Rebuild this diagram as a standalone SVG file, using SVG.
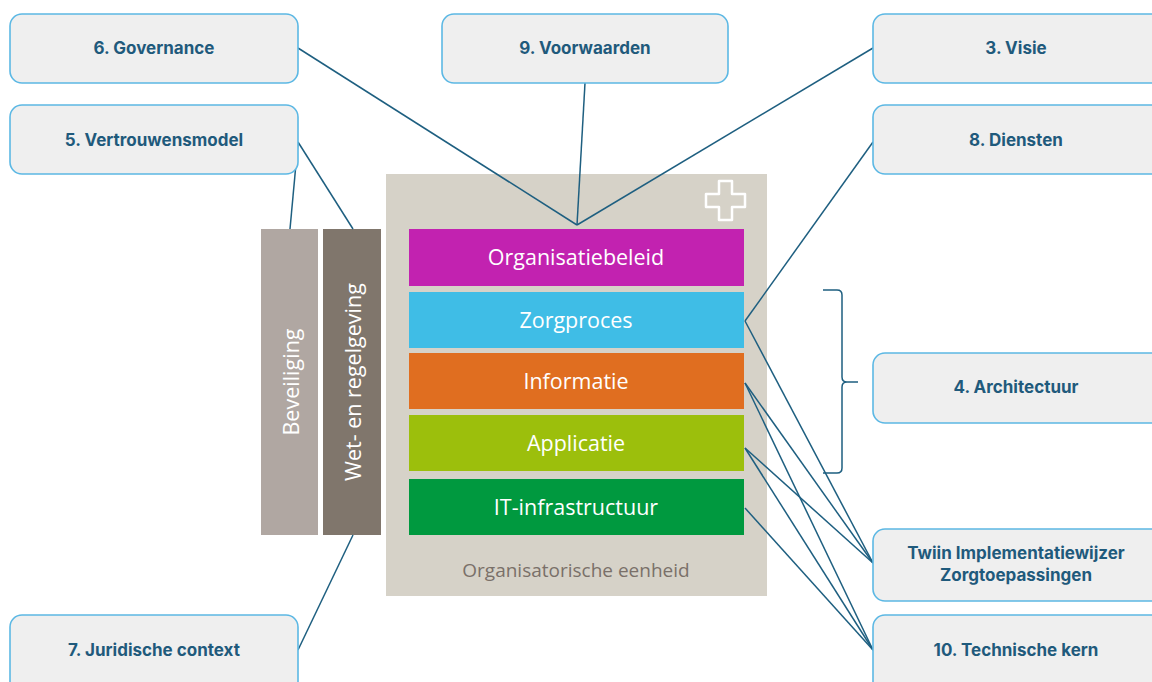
<svg xmlns="http://www.w3.org/2000/svg" width="1152" height="682" viewBox="0 0 1152 682">
<style>
.box{fill:#efefef;stroke:#5cb8e4;stroke-width:1.6}
.bt{font-family:Inter,Lato,"Liberation Sans",sans-serif;font-weight:700;font-size:17px;fill:#1f5a7c;text-anchor:middle}
.lt{font-family:"Open Sans","Liberation Sans",sans-serif;font-weight:500;font-size:21.5px;fill:#ffffff;text-anchor:middle}
.con{stroke:#1e5f80;stroke-width:1.5;fill:none}
</style>
<rect width="1152" height="682" fill="#ffffff"/>
<g id="container">
<rect x="386" y="174" width="381" height="422" fill="#d6d2c8"/>
<path d="M719,181 h13 v13 h13 v13 h-13 v13 h-13 v-13 h-13 v-13 h13 z" fill="none" stroke="#ffffff" stroke-width="2.5" stroke-linejoin="round"/>
<text x="576" y="577" font-family="'Open Sans','Liberation Sans',sans-serif" font-size="19" fill="#7a7069" text-anchor="middle">Organisatorische eenheid</text>
</g>
<g id="organisatiebeleid"><rect x="409" y="229" width="335" height="57" fill="#c222b0"/><text class="lt" x="576" y="265">Organisatiebeleid</text></g>
<g id="zorgproces"><rect x="409" y="292" width="335" height="56" fill="#3fbde6"/><text class="lt" x="576" y="328">Zorgproces</text></g>
<g id="informatie"><rect x="409" y="353" width="335" height="56" fill="#e06e20"/><text class="lt" x="576" y="389">Informatie</text></g>
<g id="applicatie"><rect x="409" y="415" width="335" height="56" fill="#9cbf0c"/><text class="lt" x="576" y="451">Applicatie</text></g>
<g id="it-infrastructuur"><rect x="409" y="479" width="335" height="56" fill="#00993f"/><text class="lt" x="576" y="515">IT-infrastructuur</text></g>
<g id="beveiliging"><rect x="261" y="229" width="57" height="306" fill="#b0a7a2"/><text class="lt" transform="translate(299,382) rotate(-90)">Beveiliging</text></g>
<g id="wetgeving"><rect x="323" y="229" width="58" height="306" fill="#80766c"/><text class="lt" transform="translate(361,382) rotate(-90)">Wet- en regelgeving</text></g>
<g id="connectors">
<line class="con" x1="298" y1="48" x2="577" y2="225"/>
<line class="con" x1="585" y1="83" x2="577" y2="225"/>
<line class="con" x1="873" y1="48" x2="577" y2="225"/>
<line class="con" x1="298" y1="142" x2="290" y2="229"/>
<line class="con" x1="298" y1="142" x2="353" y2="229"/>
<line class="con" x1="298" y1="650" x2="353" y2="535"/>
<line class="con" x1="873" y1="142" x2="745" y2="321"/>
<line class="con" x1="745" y1="321" x2="873" y2="563"/>
<line class="con" x1="745" y1="383" x2="873" y2="563"/>
<line class="con" x1="745" y1="383" x2="873" y2="650"/>
<line class="con" x1="745" y1="448" x2="873" y2="563"/>
<line class="con" x1="745" y1="448" x2="873" y2="650"/>
<line class="con" x1="745" y1="508" x2="873" y2="650"/>
<path class="con" d="M823,290 h14 q5,0 5,5 v82 q0,5 5,5 h11 M847,382 q-5,0 -5,5 v81 q0,5 -5,5 h-14"/>
</g>
<g id="governance"><rect class="box" x="10" y="14" width="288" height="69" rx="12"/><text class="bt" x="154" y="54">6. Governance</text></g>
<g id="vertrouwensmodel"><rect class="box" x="10" y="105" width="288" height="69" rx="12"/><text class="bt" x="154" y="146">5. Vertrouwensmodel</text></g>
<g id="voorwaarden"><rect class="box" x="442" y="14" width="286" height="69" rx="12"/><text class="bt" x="585" y="54">9. Voorwaarden</text></g>
<g id="visie"><rect class="box" x="873" y="14" width="290" height="69" rx="12"/><text class="bt" x="1016" y="54">3. Visie</text></g>
<g id="diensten"><rect class="box" x="873" y="105" width="290" height="69" rx="12"/><text class="bt" x="1016" y="146">8. Diensten</text></g>
<g id="architectuur"><rect class="box" x="873" y="353" width="290" height="70" rx="12"/><text class="bt" x="1016" y="393">4. Architectuur</text></g>
<g id="twiin"><rect class="box" x="873" y="529" width="290" height="72" rx="12"/><text class="bt" x="1016" y="559">Twiin Implementatiewijzer</text><text class="bt" x="1016" y="581">Zorgtoepassingen</text></g>
<g id="technische-kern"><rect class="box" x="873" y="615" width="290" height="80" rx="12"/><text class="bt" x="1016" y="656">10. Technische kern</text></g>
<g id="juridische-context"><rect class="box" x="10" y="615" width="288" height="80" rx="12"/><text class="bt" x="154" y="656">7. Juridische context</text></g>
</svg>
